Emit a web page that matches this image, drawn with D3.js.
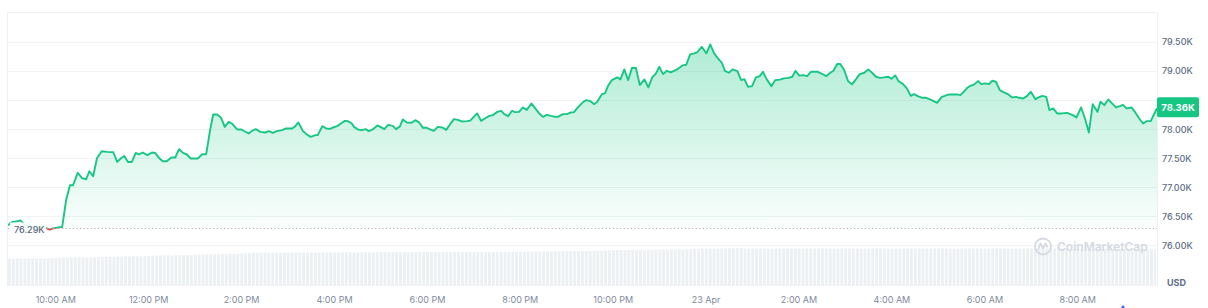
<!DOCTYPE html>
<html>
<head>
<meta charset="utf-8">
<script src="https://cdn.jsdelivr.net/npm/d3@7"></script>
<style>
  body { margin: 0; background: #fff; }
  svg { display: block; font-family: Inter, "Noto Sans", sans-serif; }
</style>
</head>
<body>
<svg id="chart" width="1208" height="308"></svg>
<script>
// BTC / USD, 22-23 Apr, 5 minute samples
const startTime = new Date(2025, 3, 22, 8, 59);
const openPrice = 76290;

// minutes after startTime
const minutes = [
  0, 5, 12, 16, 21, 28, 36, 44, 50, 54, 58, 61, 65, 70, 75, 80, 84, 90, 96, 101,
  105, 110, 115, 121, 128, 136, 141, 146, 150, 155, 160, 165, 169, 174, 180, 186, 190, 195, 200, 205,
  211, 216, 221, 226, 231, 236, 245, 251, 256, 261, 265, 270, 275, 280, 285, 289, 296, 301, 306, 311,
  315, 320, 326, 332, 337, 342, 347, 354, 359, 367, 371, 375, 381, 386, 391, 397, 400, 406, 411, 416,
  420, 425, 430, 435, 439, 444, 447, 452, 457, 462, 466, 471, 477, 481, 486, 491, 497, 501, 506, 510,
  515, 521, 526, 531, 536, 540, 545, 550, 555, 561, 566, 571, 576, 581, 586, 593, 597, 600, 606, 611,
  616, 621, 626, 632, 637, 641, 646, 651, 655, 660, 665, 670, 676, 681, 686, 691, 696, 701, 707, 710,
  717, 722, 727, 731, 736, 743, 747, 752, 757, 761, 767, 771, 775, 780, 787, 791, 796, 801, 806, 811,
  816, 822, 827, 832, 837, 841, 846, 851, 856, 860, 865, 871, 876, 881, 886, 890, 896, 902, 907, 912,
  917, 922, 926, 931, 936, 942, 947, 951, 956, 961, 966, 971, 975, 980, 986, 991, 997, 1002, 1008, 1013,
  1017, 1022, 1027, 1032, 1037, 1042, 1046, 1052, 1057, 1062, 1066, 1071, 1075, 1080, 1085, 1090, 1095, 1100, 1106, 1111,
  1116, 1121, 1126, 1131, 1137, 1141, 1146, 1150, 1156, 1161, 1166, 1170, 1175, 1181, 1186, 1190, 1195, 1200, 1206, 1210,
  1215, 1220, 1226, 1230, 1234, 1239, 1243, 1248, 1253, 1257, 1262, 1267, 1271, 1276, 1281, 1285, 1292, 1297, 1302, 1306,
  1311, 1316, 1321, 1327, 1331, 1336, 1341, 1345, 1350, 1355, 1361, 1368, 1375, 1380, 1386, 1391, 1396, 1401, 1407, 1411,
  1416, 1421, 1426, 1431, 1436, 1440, 1445, 1451, 1456, 1461, 1466, 1471, 1476, 1480, 1484
];

const prices = [
  76345, 76397, 76414, 76431, 76362, 76328, 76310, 76310, 76293, 76271, 76293, 76298, 76310, 76316, 76776, 77034, 77034, 77247, 77155, 77138,
  77276, 77190, 77505, 77621, 77609, 77603, 77436, 77500, 77540, 77436, 77436, 77591, 77564, 77598, 77552, 77598, 77591, 77505, 77448, 77448,
  77512, 77512, 77655, 77591, 77564, 77495, 77495, 77569, 77569, 77983, 78253, 78253, 78202, 78040, 78126, 78098, 77995, 77995, 77960, 77926,
  77971, 78000, 77953, 77943, 77966, 77936, 77966, 77983, 78012, 78012, 78052, 78116, 77966, 77909, 77867, 77897, 77897, 78052, 78012, 78005,
  78029, 78052, 78098, 78143, 78138, 78098, 78040, 77995, 77983, 78000, 77966, 77995, 78064, 78040, 78000, 78074, 78057, 78000, 78043, 78167,
  78116, 78109, 78155, 78116, 78022, 78029, 77995, 77971, 78040, 78029, 77988, 78086, 78172, 78160, 78133, 78138, 78147, 78190, 78271, 78143,
  78184, 78224, 78241, 78298, 78316, 78259, 78224, 78316, 78293, 78298, 78374, 78333, 78443, 78357, 78271, 78212, 78247, 78229, 78212, 78212,
  78259, 78259, 78288, 78293, 78374, 78471, 78500, 78483, 78431, 78471, 78603, 78616, 78747, 78845, 78891, 78857, 79029, 78845, 79057, 79052,
  78759, 78857, 78719, 78891, 78960, 79074, 78948, 79005, 78978, 79005, 79034, 79098, 79109, 79288, 79305, 79322, 79419, 79305, 79460, 79305,
  79219, 79143, 79005, 78971, 79029, 79000, 78845, 78862, 78729, 78741, 78891, 78914, 78988, 78857, 78741, 78845, 78853, 78874, 78884, 78902,
  79003, 78922, 78931, 78914, 78988, 78988, 78988, 78948, 78914, 78971, 79005, 79121, 79121, 79017, 78828, 78771, 78857, 78948, 78971, 79029,
  78971, 78902, 78884, 78891, 78902, 78867, 78926, 78828, 78776, 78702, 78574, 78603, 78569, 78540, 78540, 78517, 78488, 78453, 78557, 78574,
  78598, 78598, 78598, 78586, 78638, 78712, 78747, 78771, 78828, 78776, 78788, 78776, 78833, 78816, 78672, 78643, 78598, 78547, 78557, 78540,
  78529, 78569, 78643, 78517, 78547, 78574, 78557, 78328, 78357, 78271, 78271, 78281, 78241, 78202, 78374, 78184, 77943, 78431, 78298, 78471,
  78414, 78512, 78443, 78374, 78397, 78419, 78357, 78374, 78288, 78184, 78098, 78138, 78138, 78253, 78360
];

// 24h volume (billion USD), one bar per 5 minute slot, one row per hour
const volumes = [
  29.0, 28.8, 29.1, 29.0, 28.9, 29.2, 29.0, 29.1, 29.3, 29.0, 29.2, 29.4,
  29.6, 29.8, 30.1, 29.9, 30.0, 30.2, 30.1, 30.3, 30.0, 30.4, 30.2, 30.5,
  30.7, 30.9, 31.0, 30.8, 31.2, 31.0, 31.3, 31.1, 31.4, 31.2, 31.5, 31.3,
  31.8, 32.0, 31.9, 32.2, 32.1, 32.3, 32.0, 32.4, 32.2, 32.5, 32.3, 32.6,
  33.0, 33.2, 33.1, 33.4, 33.3, 33.6, 33.4, 33.8, 33.7, 34.0, 33.9, 34.2,
  34.4, 34.6, 34.5, 34.8, 34.7, 34.9, 35.0, 34.8, 35.1, 35.0, 35.2, 35.1,
  35.3, 35.2, 35.4, 35.3, 35.5, 35.2, 35.4, 35.3, 35.5, 35.4, 35.3, 35.5,
  35.4, 35.3, 35.5, 35.4, 35.6, 35.3, 35.5, 35.4, 35.6, 35.5, 35.4, 35.6,
  35.7, 35.6, 35.8, 35.7, 35.9, 35.6, 35.8, 35.7, 35.9, 35.8, 35.7, 35.9,
  35.8, 35.7, 35.9, 35.8, 36.0, 35.7, 35.9, 35.8, 36.0, 35.9, 35.8, 36.0,
  35.9, 35.8, 36.0, 35.9, 36.1, 35.8, 36.0, 35.9, 36.1, 36.0, 35.9, 36.1,
  36.2, 36.1, 36.3, 36.2, 36.4, 36.3, 36.5, 36.4, 36.6, 36.5, 36.4, 36.6,
  36.7, 36.8, 36.9, 36.8, 37.0, 36.9, 37.1, 37.0, 37.2, 37.3, 37.5, 37.6,
  37.8, 37.9, 37.8, 38.0, 37.9, 38.1, 38.0, 38.2, 38.1, 38.3, 38.2, 38.4,
  38.3, 38.5, 38.4, 38.6, 38.5, 38.7, 38.6, 38.8, 38.9, 39.1, 39.0, 39.2,
  39.3, 39.4, 39.5, 39.4, 39.6, 39.5, 39.7, 39.8, 39.9, 39.8, 39.6, 39.5,
  39.4, 39.5, 39.3, 39.4, 39.5, 39.4, 39.6, 39.5, 39.4, 39.5, 39.3, 39.4,
  39.5, 39.4, 39.6, 39.5, 39.4, 39.5, 39.6, 39.4, 39.5, 39.4, 39.6, 39.5,
  39.4, 39.5, 39.3, 39.5, 39.6, 39.4, 39.5, 39.4, 39.6, 39.5, 39.4, 39.5,
  39.5, 39.6, 39.4, 39.5, 39.3, 39.5, 39.4, 39.6, 39.5, 39.4, 39.5, 39.6,
  39.4, 39.5, 39.6, 39.4, 39.5, 39.4, 39.5, 39.3, 39.5, 39.6, 39.4, 39.5,
  39.5, 39.4, 39.5, 39.6, 39.4, 39.5, 39.3, 39.4, 39.5, 39.4, 39.6, 39.5,
  39.4, 39.5, 39.4, 39.3, 39.5, 39.4, 39.5, 39.4, 39.3, 39.5, 39.4, 39.3,
  39.4, 39.3, 39.5, 39.4, 39.3, 39.4, 39.2, 39.3, 39.4, 39.2, 39.3, 39.1,
  39.0, 39.1, 38.9, 39.0, 38.8, 38.9, 38.7, 38.8, 38.6
];

const priceTicks = [76000, 76500, 77000, 77500, 78000, 78500, 79000, 79500];
const timeTickStart = new Date(2025, 3, 22, 10, 0);
const timeTickEnd = new Date(2025, 3, 23, 9, 0);

const GREEN = "#16c784", RED = "#ea3943";
const L = 8, R = 1157, T = 12, B = 286;

const svg = d3.select("#chart");
const data = minutes.map((m, i) => ({ t: d3.timeMinute.offset(startTime, m), p: prices[i] }));

const x = d3.scaleTime()
  .domain([startTime, d3.timeMinute.offset(startTime, minutes[minutes.length - 1])])
  .range([L, R]);
const y = d3.scaleLinear().domain([75300, 80000]).range([B, 13]);
const yVol = d3.scaleLinear().domain([0, 40]).range([B, 248]);

const baseY = y(openPrice);
const last = prices[prices.length - 1];
const tagY = y(last) - 1;

// defs: gradients + clips
const defs = svg.append("defs");
const gUp = defs.append("linearGradient").attr("id", "gUp")
  .attr("gradientUnits", "userSpaceOnUse").attr("x1", 0).attr("x2", 0)
  .attr("y1", y(d3.max(prices))).attr("y2", baseY);
gUp.append("stop").attr("offset", 0).attr("stop-color", GREEN).attr("stop-opacity", 0.34);
gUp.append("stop").attr("offset", 1).attr("stop-color", GREEN).attr("stop-opacity", 0.02);
const gDn = defs.append("linearGradient").attr("id", "gDn")
  .attr("gradientUnits", "userSpaceOnUse").attr("x1", 0).attr("x2", 0)
  .attr("y1", baseY).attr("y2", baseY + 10);
gDn.append("stop").attr("offset", 0).attr("stop-color", RED).attr("stop-opacity", 0.05);
gDn.append("stop").attr("offset", 1).attr("stop-color", RED).attr("stop-opacity", 0.15);
defs.append("clipPath").attr("id", "above").append("rect")
  .attr("x", L).attr("y", 0).attr("width", R - L).attr("height", baseY);
defs.append("clipPath").attr("id", "below").append("rect")
  .attr("x", L).attr("y", baseY).attr("width", R - L).attr("height", 308 - baseY);

// grid
svg.append("g").selectAll("line").data(priceTicks).join("line")
  .attr("x1", L).attr("x2", R)
  .attr("y1", d => Math.round(y(d)) + 0.5).attr("y2", d => Math.round(y(d)) + 0.5)
  .attr("stroke", "#f1f3f6").attr("stroke-width", 1);

// frame
svg.append("path")
  .attr("d", `M${L - 0.5},${B}V${T + 0.5}H${R + 0.5}V${B}`)
  .attr("fill", "none").attr("stroke", "#eceff3").attr("stroke-width", 1);

// volume bars
const slot = x(d3.timeMinute.offset(startTime, 5)) - x(startTime);
svg.append("g").selectAll("rect").data(volumes).join("rect")
  .attr("x", (d, i) => x(d3.timeMinute.offset(startTime, i * 5)))
  .attr("width", (d, i) => Math.max(0.5, Math.min(slot - 1, R - x(d3.timeMinute.offset(startTime, i * 5)) - 1)))
  .attr("y", d => yVol(d))
  .attr("height", d => B - yVol(d))
  .attr("fill", "#edf0f3");

// watermark
const wm = svg.append("g").attr("transform", "translate(1043,246.5)");
wm.append("circle").attr("r", 8).attr("fill", "none").attr("stroke", "#d5dae2").attr("stroke-width", 1.8);
wm.append("path").attr("d", "M-5,3 L-2.5,-3 L0,2 L2.5,-3 L4.5,1")
  .attr("fill", "none").attr("stroke", "#d5dae2").attr("stroke-width", 1.8).attr("stroke-linejoin", "round");
wm.append("text").attr("x", 14).attr("y", 4.3).text("CoinMarketCap")
  .attr("font-size", 12).attr("font-weight", 600).attr("fill", "#d5dae2");

// areas + lines
const area = d3.area().x(d => x(d.t)).y0(baseY).y1(d => y(d.p));
const line = d3.line().x(d => x(d.t)).y(d => y(d.p));

svg.append("path").datum(data).attr("d", area).attr("fill", "url(#gUp)").attr("clip-path", "url(#above)");
svg.append("path").datum(data).attr("d", area).attr("fill", "url(#gDn)").attr("clip-path", "url(#below)");

// open price reference line
svg.append("line").attr("x1", L).attr("x2", R).attr("y1", baseY).attr("y2", baseY)
  .attr("stroke", "#bfa9b0").attr("stroke-width", 1).attr("stroke-dasharray", "1.2,2.4");

svg.append("path").datum(data).attr("d", line).attr("fill", "none")
  .attr("stroke", GREEN).attr("stroke-width", 1.9).attr("stroke-linejoin", "round")
  .attr("clip-path", "url(#above)");
svg.append("path").datum(data).attr("d", line).attr("fill", "none")
  .attr("stroke", RED).attr("stroke-width", 1.9).attr("stroke-linejoin", "round")
  .attr("clip-path", "url(#below)");

// open price label
svg.append("rect").attr("x", 10).attr("y", baseY - 6).attr("width", 36).attr("height", 14)
  .attr("fill", "#fff").attr("fill-opacity", 0.88);
svg.append("text").attr("x", 14).attr("y", baseY + 1.8).attr("dy", "0.32em")
  .attr("font-size", 9).attr("font-weight", 500).attr("fill", "#58667e")
  .text((openPrice / 1000).toFixed(2) + "K");

// y axis (a tick label sitting under the price tag is covered, so it is left out)
const yAxis = svg.append("g").attr("transform", `translate(${R},0)`)
  .call(d3.axisRight(y).tickValues(priceTicks).tickSize(0).tickPadding(5)
    .tickFormat(d => (d / 1000).toFixed(2) + "K"));
yAxis.select(".domain").remove();
yAxis.selectAll(".tick").filter(d => Math.abs(y(d) - tagY) < 12).select("text").remove();
yAxis.selectAll("text").attr("font-family", "Inter, sans-serif").attr("font-size", 9)
  .attr("font-weight", 500).attr("fill", "#616e85");

svg.append("text").attr("x", 1167).attr("y", 283).attr("dy", "0.35em").text("USD")
  .attr("font-size", 9).attr("font-weight", 700).attr("fill", "#616e85");

// x axis
const fmtHour = d3.timeFormat("%-I:%M %p"), fmtDay = d3.timeFormat("%-d %b");
const xAxis = svg.append("g").attr("transform", `translate(0,${B})`)
  .call(d3.axisBottom(x).tickValues(d3.timeHour.every(2).range(timeTickStart, timeTickEnd))
    .tickSize(0).tickPadding(11)
    .tickFormat(d => d.getHours() === 0 ? fmtDay(d) : fmtHour(d)));
xAxis.select(".domain").remove();
xAxis.selectAll("text").attr("font-family", "Inter, sans-serif").attr("font-size", 9)
  .attr("fill", "#808a9d");

// last price tag
const tag = svg.append("g").attr("transform", `translate(${R},${tagY})`);
tag.append("rect").attr("x", 0).attr("y", -10).attr("width", 42).attr("height", 20).attr("rx", 2)
  .attr("fill", GREEN);
tag.append("text").attr("x", 21).attr("y", 0).attr("dy", "0.35em").attr("text-anchor", "middle")
  .attr("font-size", 9.5).attr("font-weight", 700).attr("fill", "#fff")
  .text((last / 1000).toFixed(2) + "K");

// small marker under chart
svg.append("circle").attr("cx", 1123).attr("cy", 307).attr("r", 1.5).attr("fill", "#3861fb");
</script>
</body>
</html>
